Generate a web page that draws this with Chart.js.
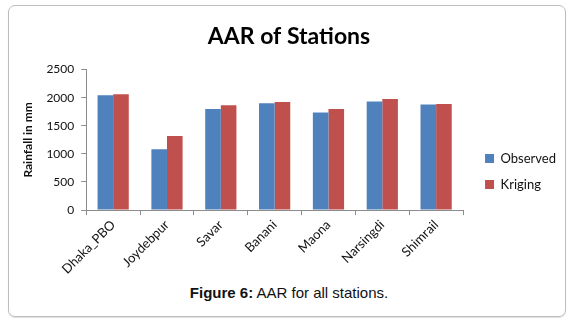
<!DOCTYPE html>
<html>
<head>
<meta charset="utf-8">
<script src="https://cdn.jsdelivr.net/npm/chart.js@4/dist/chart.umd.min.js"></script>
<style>
  html, body { margin: 0; padding: 0; background: #fff; }
  #marco {
    position: absolute; left: 8px; top: 5px;
    width: 556px; height: 310px;
    border: 1px solid #bdbdbd; border-radius: 7px;
    box-shadow: 0 1px 1px rgba(0,0,0,0.12);
  }
  #grafico { position: absolute; left: 0; top: 0; }
  #leyenda {
    position: absolute; left: 2px; top: 278px; width: 556px;
    text-align: center;
    font-family: "Liberation Sans", Arial, sans-serif;
    font-size: 15px; color: #111;
  }
</style>
</head>
<body>
<div id="marco">
  <canvas id="grafico" width="556" height="275"></canvas>
  <div id="leyenda"><b>Figure 6:</b> AAR for all stations.</div>
</div>
<script>
  // Datos
  const estaciones = ['Dhaka_PBO', 'Joydebpur', 'Savar', 'Banani', 'Maona', 'Narsingdi', 'Shimrail'];
  const observado = [2043, 1084, 1800, 1900, 1736, 1931, 1878];
  const kriging = [2060, 1320, 1866, 1924, 1800, 1978, 1889];

  const ejeMin = 0;
  const ejeMax = 2500;
  const paso = 500;

  // Mueve la leyenda un poco hacia abajo y a la derecha, como en el original
  const moverLeyenda = {
    id: 'moverLeyenda',
    afterLayout(chart) {
      const lg = chart.legend;
      if (!lg) return;
      lg.top += 29;
      lg.bottom += 29;
      lg.left += 9;
      lg.right += 9;
    }
  };

  const ctxAAR = document.getElementById('grafico').getContext('2d');

  new Chart(ctxAAR, {
    type: 'bar',
    data: {
      labels: estaciones,
      datasets: [{
        label: 'Observed',
        data: observado,
        backgroundColor: '#4F81BD',
      }, {
        label: 'Kriging',
        data: kriging,
        backgroundColor: '#C0504D',
      }],
    },
    options: {
      responsive: false,
      animation: false,
      layout: {
        padding: { left: 12, right: 8, top: 0, bottom: 2 }
      },
      datasets: {
        bar: {
          categoryPercentage: 0.58,
          barPercentage: 1
        }
      },
      scales: {
        y: {
          min: ejeMin,
          max: ejeMax,
          ticks: {
            stepSize: paso,
            padding: 7,
            color: '#111',
            font: { family: 'Lato', size: 12 },
            callback: (valor) => String(valor) // sin separador de miles
          },
          grid: {
            drawOnChartArea: false,
            tickLength: 5,
            color: '#8c8c8c'
          },
          border: { color: '#8c8c8c' },
          title: {
            display: true,
            text: 'Rainfall in mm',
            color: '#111',
            font: { family: 'Lato', size: 12, weight: 'bold' },
            padding: { top: 0, bottom: 4 }
          }
        },
        x: {
          ticks: {
            minRotation: 45,
            maxRotation: 45,
            padding: 2,
            color: '#111',
            font: { family: 'Lato', size: 13 }
          },
          grid: {
            drawOnChartArea: false,
            tickLength: 5,
            color: '#8c8c8c'
          },
          border: { color: '#8c8c8c' }
        }
      },
      plugins: {
        title: {
          display: true,
          text: 'AAR of Stations',
          color: '#000',
          font: { family: 'Lato', size: 23, weight: 'bold' },
          padding: { top: 17, bottom: 19 }
        },
        legend: {
          position: 'right',
          labels: {
            boxWidth: 9,
            boxHeight: 9,
            padding: 13,
            color: '#111',
            font: { family: 'Lato', size: 13 }
          }
        },
        tooltip: { enabled: false }
      }
    },
    plugins: [moverLeyenda]
  });
</script>
</body>
</html>
